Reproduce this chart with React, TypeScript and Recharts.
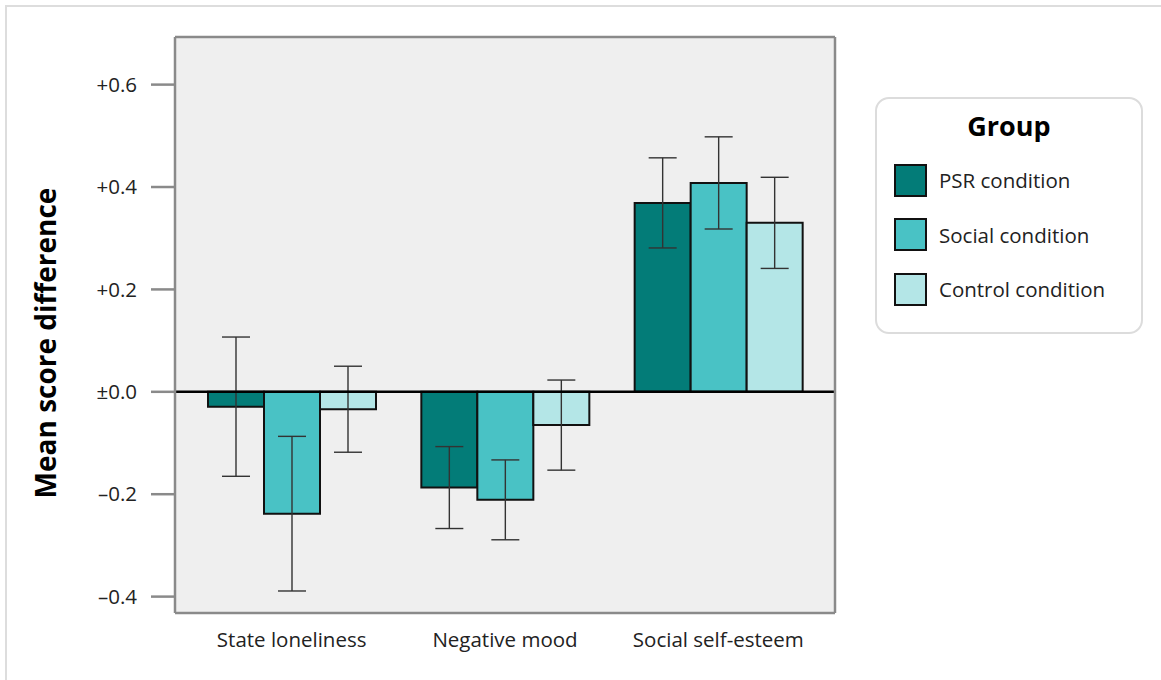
import {
  BarChart,
  Bar,
  XAxis,
  YAxis,
  ErrorBar,
  Legend,
  CartesianGrid,
  ReferenceLine,
} from 'recharts';

const categories = ['State loneliness', 'Negative mood', 'Social self-esteem'];
const seriesNames = ['PSR condition', 'Social condition', 'Control condition'];

const psrMean = [-0.029, -0.187, 0.369];
const psrErr = [0.136, 0.08, 0.088];
const socialMean = [-0.238, -0.211, 0.408];
const socialErr = [0.151, 0.078, 0.09];
const controlMean = [-0.034, -0.065, 0.33];
const controlErr = [0.084, 0.088, 0.089];

const yTicks = [-0.4, -0.2, 0, 0.2, 0.4, 0.6];
const yDomain: [number, number] = [-0.432, 0.693];

const COLORS = {
  psr: '#037c78',
  social: '#49c2c5',
  control: '#b4e6e7',
};

const FRAME = '#8a8a8a';
const FONT = '"Open Sans", "Noto Sans", sans-serif';

const data = categories.map((name, i) => ({
  name,
  psr: psrMean[i],
  psrErr: psrErr[i],
  social: socialMean[i],
  socialErr: socialErr[i],
  control: controlMean[i],
  controlErr: controlErr[i],
}));

function fmtTick(v: number) {
  if (Math.abs(v) < 1e-9) return '\u00b10.0';
  return v > 0 ? `+${v.toFixed(1)}` : `\u2013${Math.abs(v).toFixed(1)}`;
}

function GroupLegend({ payload }: any) {
  // keep series order, the legend sorts by name otherwise
  const items = [...(payload || [])].sort(
    (a: any, b: any) => seriesNames.indexOf(a.value) - seriesNames.indexOf(b.value),
  );
  return (
    <div
      style={{
        width: 268,
        height: 237,
        boxSizing: 'border-box',
        border: '2.5px solid #dcdcdc',
        borderRadius: 14,
        background: '#fff',
        fontFamily: FONT,
        paddingTop: 8,
      }}
    >
      <div style={{ textAlign: 'center', fontWeight: 700, fontSize: 27, color: '#000', marginBottom: 8, lineHeight: '38px' }}>
        Group
      </div>
      {items.map((p: any) => (
        <div key={p.value} style={{ display: 'flex', alignItems: 'center', height: 54.5, paddingLeft: 17 }}>
          <span
            style={{
              display: 'inline-block',
              width: 29,
              height: 29,
              background: p.color,
              border: '2.5px solid #111',
              marginRight: 12,
            }}
          />
          <span style={{ fontSize: 20.5, color: '#222' }}>{p.value}</span>
        </div>
      ))}
    </div>
  );
}

export default function App() {
  return (
    <div style={{ position: 'absolute', left: 0, top: 0, width: 1161, height: 680, background: '#fff', overflow: 'hidden' }}>
      <div
        style={{
          position: 'absolute',
          left: 5,
          top: 5,
          width: 1200,
          height: 720,
          borderTop: '2px solid #dddddd',
          borderLeft: '2px solid #dddddd',
        }}
      />
      <div
        style={{
          position: 'absolute',
          left: 45,
          top: 343,
          transform: 'translate(-50%, -50%) rotate(-90deg)',
          whiteSpace: 'nowrap',
          fontFamily: FONT,
          fontWeight: 700,
          fontSize: 28,
          color: '#000',
        }}
      >
        Mean score difference
      </div>
      <div style={{ position: 'absolute', left: 0, top: 0 }}>
        <BarChart
          width={1161}
          height={680}
          data={data}
          margin={{ top: 36, right: 325, bottom: 37, left: 115 }}
          barCategoryGap={22}
          barGap={0}
        >
          <CartesianGrid horizontal={false} vertical={false} fill="#efefef" fillOpacity={1} />
          <XAxis
            dataKey="name"
            axisLine={{ stroke: FRAME, strokeWidth: 2.5 }}
            tickLine={false}
            tickSize={0}
            tickMargin={19}
            height={30}
            padding={{ left: 10, right: 10 }}
            tick={{ fontSize: 20.5, fontFamily: FONT, fill: '#222' }}
          />
          <XAxis
            xAxisId="top"
            orientation="top"
            dataKey="name"
            height={1}
            tick={false}
            tickLine={false}
            axisLine={{ stroke: FRAME, strokeWidth: 2.5 }}
          />
          <YAxis
            width={60}
            domain={yDomain}
            ticks={yTicks}
            allowDataOverflow
            axisLine={{ stroke: FRAME, strokeWidth: 2.5 }}
            tickSize={24}
            tickMargin={14}
            tickLine={{ stroke: FRAME, strokeWidth: 2.5 }}
            tickFormatter={fmtTick}
            tick={{ fontSize: 20.5, fontFamily: FONT, fill: '#222' }}
          />
          <YAxis
            yAxisId="right"
            orientation="right"
            width={1}
            domain={yDomain}
            allowDataOverflow
            tick={false}
            tickLine={false}
            axisLine={{ stroke: FRAME, strokeWidth: 2.5 }}
          />
          <Legend
            layout="horizontal"
            verticalAlign="middle"
            align="center"
            wrapperStyle={{ left: 875, top: 97, width: 268 }}
            content={<GroupLegend />}
          />
          <Bar dataKey="psr" name="PSR condition" fill={COLORS.psr} stroke="#111" strokeWidth={2} barSize={56} isAnimationActive={false}>
            <ErrorBar dataKey="psrErr" width={14} stroke="#333" strokeWidth={1.4} direction="y" />
          </Bar>
          <Bar dataKey="social" name="Social condition" fill={COLORS.social} stroke="#111" strokeWidth={2} barSize={56} isAnimationActive={false}>
            <ErrorBar dataKey="socialErr" width={14} stroke="#333" strokeWidth={1.4} direction="y" />
          </Bar>
          <Bar dataKey="control" name="Control condition" fill={COLORS.control} stroke="#111" strokeWidth={2} barSize={56} isAnimationActive={false}>
            <ErrorBar dataKey="controlErr" width={14} stroke="#333" strokeWidth={1.4} direction="y" />
          </Bar>
          <ReferenceLine y={0} stroke="#000" strokeWidth={2.5} />
        </BarChart>
      </div>
    </div>
  );
}
